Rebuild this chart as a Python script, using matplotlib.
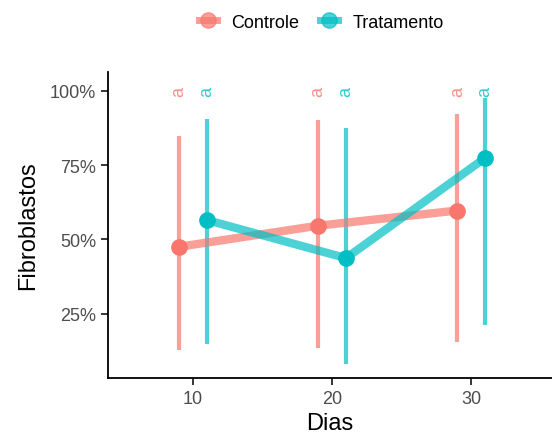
import matplotlib
matplotlib.use("Agg")
import matplotlib.pyplot as plt
from matplotlib.lines import Line2D
from matplotlib.ticker import FuncFormatter

plt.rcParams['font.family'] = ['Liberation Sans', 'DejaVu Sans']

dias = [10, 20, 30]
grupos = ["Controle", "Tratamento"]
cores = ["#F8766D", "#00BFC4"]
media = {"Controle": [47.5, 54.6, 59.7], "Tratamento": [56.5, 43.7, 77.4]}
sup = {"Controle": [84.9, 90.3, 92.2], "Tratamento": [90.5, 87.5, 97.5]}
inf = {"Controle": [12.8, 13.4, 15.4], "Tratamento": [14.8, 8.1, 21.3]}
letras = {"Controle": ["a", "a", "a"], "Tratamento": ["a", "a", "a"]}
dodge = {"Controle": -1.0, "Tratamento": 1.0}
y_letra = 100

fig = plt.figure(figsize=(5.52, 4.39), dpi=100)
ax = fig.add_axes([0.1957, 0.1367, 0.8043, 0.697])

for g, c in zip(grupos, cores):
    xs = [d + dodge[g] for d in dias]
    ax.vlines(xs, inf[g], sup[g], color=c, lw=3, alpha=0.7, zorder=2)
    ax.plot(xs, media[g], color=c, lw=6, alpha=0.7, solid_capstyle='butt', zorder=3)
    ax.plot(xs, media[g], 'o', color=c, ms=11, zorder=4)
    for x, l in zip(xs, letras[g]):
        ax.text(x, y_letra, l, color=c, fontsize=13, rotation=90,
                ha='center', va='center', alpha=0.8, zorder=5)

ax.set_xlim(3.9, 35.8)
ax.set_ylim(3.36, 106.3)
ax.set_xticks(dias)
ax.set_yticks([25, 50, 75, 100])
ax.yaxis.set_major_formatter(FuncFormatter(lambda v, p: f"{v:.0f}%"))
for s in ['top', 'right']:
    ax.spines[s].set_visible(False)
for s in ['left', 'bottom']:
    ax.spines[s].set_linewidth(1.3)
ax.tick_params(axis='both', direction='out', length=5, width=1.1,
               labelsize=13, colors='black')
ax.tick_params(axis='both', labelcolor='#4d4d4d')
ax.set_xlabel("Dias", fontsize=17, labelpad=4)
ax.set_ylabel("Fibroblastos", fontsize=17, labelpad=8)

handles = [Line2D([0], [0], color=c, lw=5, alpha=0.7, marker='o', ms=11,
                  markerfacecolor=c, markeredgecolor=c) for c in cores]
fig.legend(handles, grupos, loc='center', bbox_to_anchor=(0.582, 0.947), ncol=2,
           frameon=False, fontsize=13, handlelength=1.0, handletextpad=0.8,
           columnspacing=1.15)

fig.savefig("out.png", dpi=100)
